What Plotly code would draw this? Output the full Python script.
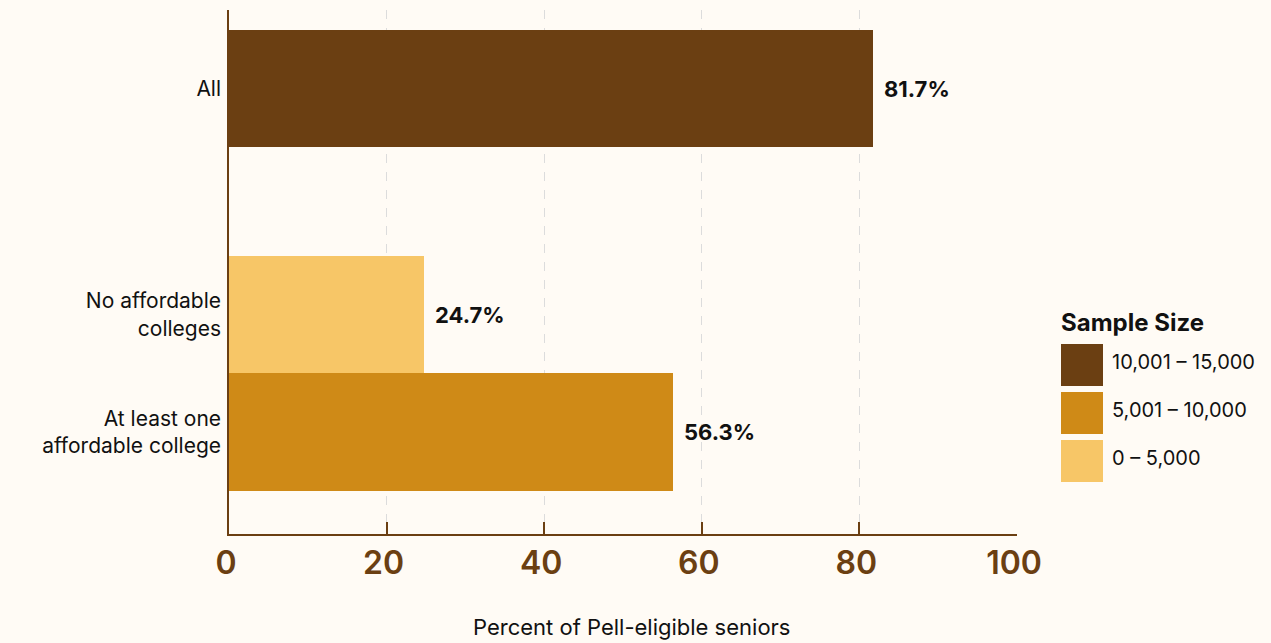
import plotly.graph_objects as go

# Data
categories = ["All", "No affordable<br>colleges", "At least one<br>affordable college"]
values = [81.7, 24.7, 56.3]
size_groups = ["10,001 – 15,000", "0 – 5,000", "5,001 – 10,000"]

legend_labels = ["10,001 – 15,000", "5,001 – 10,000", "0 – 5,000"]
legend_colors = ["#6b3f12", "#cf8a17", "#f7c667"]
color_map = dict(zip(legend_labels, legend_colors))

x_ticks = [0, 20, 40, 60, 80, 100]

# Layout positions (vertical slots for each category)
y_pos = [2.93, 1.0, 0.0]

BG = "#fffbf5"
BROWN = "#6b3f12"
FONT = "Inter, Lato, sans-serif"

fig = go.Figure()
fig.add_trace(go.Bar(
    x=values, y=y_pos, orientation="h", width=1.0,
    marker=dict(color=[color_map[g] for g in size_groups], line=dict(width=0)),
    showlegend=False, hoverinfo="skip",
))

W, H = 1271, 643
ml, mr, mt, mb = 229, 254, 10, 109
pw, ph = W - ml - mr, H - mt - mb
def px(xp):
    return (xp - ml) / pw
def py(yp):
    return (H - mb - yp) / ph

annotations = []
for v, yp in zip(values, y_pos):
    annotations.append(dict(x=v, y=yp, xref="x", yref="y", text=f"<b>{v:.1f}%</b>",
                            showarrow=False, xanchor="left", xshift=9,
                            font=dict(size=22, color="#111", family=FONT)))

# Custom legend
annotations.append(dict(x=px(1059), y=py(322), xref="paper", yref="paper", text="<b>Sample Size</b>",
                        showarrow=False, xanchor="left", yanchor="middle",
                        font=dict(size=24, color="#111", family=FONT)))
shapes = []
for i, (lab, col) in enumerate(zip(legend_labels, legend_colors)):
    top = 344 + i * 48
    shapes.append(dict(type="rect", xref="paper", yref="paper",
                       x0=px(1061), x1=px(1103), y0=py(top + 42), y1=py(top),
                       fillcolor=col, line=dict(width=0)))
    annotations.append(dict(x=px(1110), y=py(top + 18), xref="paper", yref="paper", text=lab,
                            showarrow=False, xanchor="left", yanchor="middle",
                            font=dict(size=20, color="#111", family=FONT)))

# x-axis title as annotation
annotations.append(dict(x=0.511, y=py(627), xref="paper", yref="paper",
                        text="Percent of Pell-eligible seniors", showarrow=False,
                        xanchor="center", yanchor="middle",
                        font=dict(size=22, color="#111", family=FONT)))

fig.update_layout(
    width=W, height=H,
    margin=dict(l=ml, r=mr, t=mt, b=mb, autoexpand=False),
    paper_bgcolor=BG, plot_bgcolor=BG,
    font=dict(family=FONT, color="#111"),
    bargap=0,
    annotations=annotations,
    shapes=shapes,
    xaxis=dict(
        range=[0, 100], tickvals=x_ticks, ticktext=[str(t) for t in x_ticks],
        showgrid=True, gridcolor="#dcdcdc", griddash="dash", gridwidth=1,
        zeroline=False, showline=True, linecolor=BROWN, linewidth=1.5,
        ticks="inside", ticklen=12, tickcolor=BROWN, tickwidth=1.5,
        tickfont=dict(size=32, color=BROWN, family=FONT, weight=600),
        ticklabelstandoff=0, ticklabelshift=-3,
        automargin=False,
        fixedrange=True,
    ),
    yaxis=dict(
        range=[-0.87, 3.6], tickvals=y_pos, ticktext=categories,
        showgrid=False, zeroline=False, showline=True, linecolor=BROWN, linewidth=1.5,
        ticks="", ticklabelstandoff=2,
        tickfont=dict(size=21, color="#111", family=FONT),
        automargin=False,
        fixedrange=True,
    ),
)

fig.write_html(
    "out.html",
    config={"displayModeBar": False},
    post_script="document.body.style.margin='0';document.body.style.background='" + BG + "';",
)
